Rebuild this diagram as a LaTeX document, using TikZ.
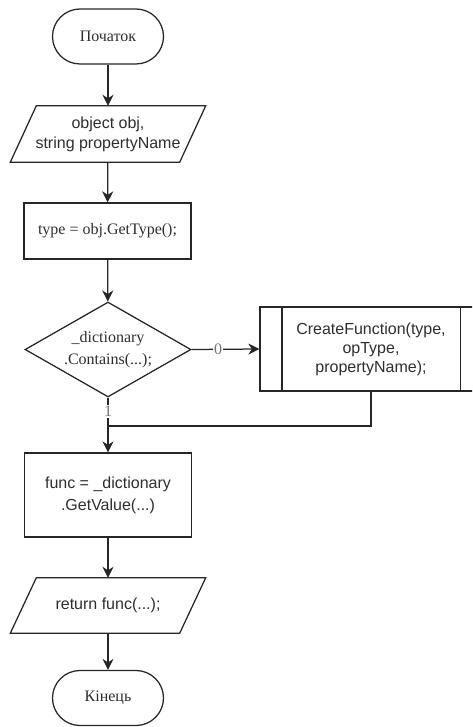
\documentclass[tikz,border=0pt]{standalone}
\usepackage{fontspec}
\setmainfont{Liberation Serif}
\setsansfont{Liberation Sans}
\usetikzlibrary{arrows.meta,shapes.geometric}
\begin{document}
\begin{tikzpicture}[x=1pt,y=-1pt,
  txt/.style={align=center, text=black!82, inner sep=0pt},
  shp/.style={draw=black!85, line width=1.25pt},
  rmtext/.style={font=\rmfamily\fontsize{16}{20}\selectfont},
  sftext/.style={font=\sffamily\fontsize{16}{20}\selectfont},
  term/.style={txt, shp, rmtext, rounded corners=27.5pt, minimum width=111pt, minimum height=55pt},
  iobox/.style={txt, sftext, minimum width=169pt, minimum height=56pt},
  procbox/.style={txt, shp, minimum width=167pt},
  decbox/.style={txt, shp, rmtext, diamond, aspect=1.75, minimum width=166pt, minimum height=95pt},
  subbox/.style={txt, shp, sftext, font=\sffamily\fontsize{16}{19}\selectfont, minimum width=222pt, minimum height=84pt},
  arr/.style={draw=black!85, line width=1.25pt, -{Stealth[length=11pt,width=11pt,inset=3.5pt]}},
  conn/.style={draw=black!85, line width=1.25pt},
  lbl/.style={fill=white, inner sep=1pt, text=black!55, font=\rmfamily\fontsize{16}{18}\selectfont}
]
\useasboundingbox (0,0) rectangle (472,727);
\clip (0,0) rectangle (472,727);

\node[term] (start) at (108,36.5) {Початок};
\node[iobox] (in1) at (108,134) {object obj,\\string propertyName};
\draw[shp] ([xshift=13pt]in1.north west) -- ([xshift=13pt]in1.north east)
  -- ([xshift=-13pt]in1.south east) -- ([xshift=-13pt]in1.south west) -- cycle;
\node[procbox, rmtext, minimum height=56pt] (type) at (107.5,231) {type = obj.GetType();};
\node[decbox, font=\rmfamily\fontsize{16}{22}\selectfont] (dec) at (108,349.5) {\_dictionary\\.Contains(...);};
\node[subbox] (sub) at (371,349) {CreateFunction(type,\\opType,\\propertyName);};
\draw[shp] ([xshift=22.5pt]sub.north west) -- ([xshift=22.5pt]sub.south west);
\draw[shp] ([xshift=-22.5pt]sub.north east) -- ([xshift=-22.5pt]sub.south east);
\node[procbox, sftext, font=\sffamily\fontsize{16}{22}\selectfont, minimum height=84pt] (func) at (108,495) {func = \_dictionary\\.GetValue(...)};
\node[iobox, minimum height=55pt] (out) at (108,605.5) {return func(...);};
\draw[shp] ([xshift=13pt]out.north west) -- ([xshift=13pt]out.north east)
  -- ([xshift=-13pt]out.south east) -- ([xshift=-13pt]out.south west) -- cycle;
\node[term] (end) at (108,698) {Кінець};
\coordinate (join) at (108,426);

\draw[arr] (start) -- (in1);
\draw[arr] (in1) -- (type);
\draw[arr] (type) -- (dec);
\draw[arr] (dec.east) -- node[lbl, pos=0.39] {0} (sub.west);
\draw[arr] (dec.south) -- node[lbl, pos=0.25] {1} (func.north);
\draw[conn] (sub.south) |- (join);
\draw[arr] (func) -- (out);
\draw[arr] (out) -- (end);
\end{tikzpicture}
\end{document}
